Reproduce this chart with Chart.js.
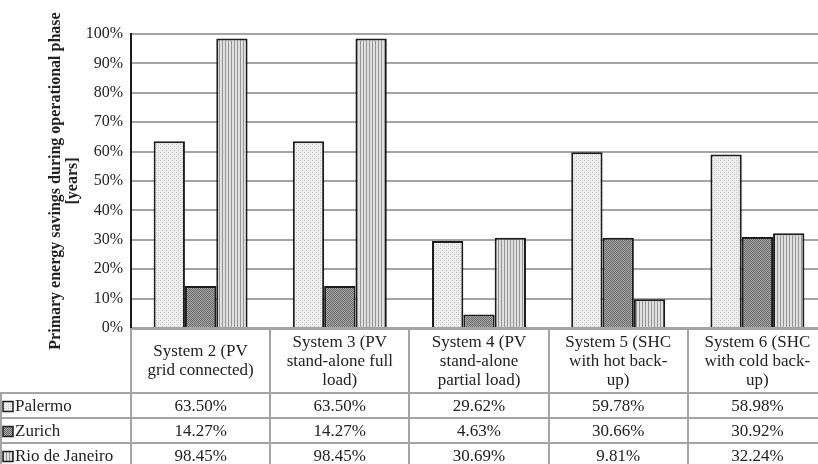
<!DOCTYPE html>
<html>
<head>
<meta charset="utf-8">
<script src="https://cdn.jsdelivr.net/npm/chart.js@4.4.1/dist/chart.umd.min.js"></script>
<style>
  html, body { margin: 0; padding: 0; background: #fff; width: 818px; height: 464px; overflow: hidden; }
  canvas { display: block; }
</style>
</head>
<body>
<canvas id="chart" width="827" height="464"></canvas>
<script>
// Category labels, already split into the lines shown in the table header row
const categories = [
  ['System 2 (PV', 'grid connected)'],
  ['System 3 (PV', 'stand-alone full', 'load)'],
  ['System 4 (PV', 'stand-alone', 'partial load)'],
  ['System 5 (SHC', 'with hot back-', 'up)'],
  ['System 6 (SHC', 'with cold back-', 'up)']
];
const seriesNames = ['Palermo', 'Zurich', 'Rio de Janeiro'];
const palermo = [63.50, 63.50, 29.62, 59.78, 58.98];
const zurich  = [14.27, 14.27, 4.63, 30.66, 30.92];
const rio     = [98.45, 98.45, 30.69, 9.81, 32.24];
const yTitle = ['Primary energy savings during operational phase', '[years]'];

const FONT = '"Liberation Serif", "Times New Roman", serif';
const TEXT = '#222222';
const RULE = '#a4a4a4';

const canvas = document.getElementById('chart');
const ctx = canvas.getContext('2d');

// Small repeating tiles for the three hatch styles
function tile(w, h, paint) {
  const t = document.createElement('canvas');
  t.width = w; t.height = h;
  paint(t.getContext('2d'));
  return ctx.createPattern(t, 'repeat');
}
const dotsFill = tile(4, 4, g => {
  g.fillStyle = '#efefef'; g.fillRect(0, 0, 4, 4);
  g.fillStyle = '#c2c2c2'; g.fillRect(0, 0, 1, 1); g.fillRect(2, 2, 1, 1);
  g.fillStyle = '#dadada'; g.fillRect(2, 0, 1, 1); g.fillRect(0, 2, 1, 1);
});
const denseFill = tile(2, 2, g => {
  g.fillStyle = '#a8a8a8'; g.fillRect(0, 0, 2, 2);
  g.fillStyle = '#6a6a6a'; g.fillRect(0, 0, 1, 1); g.fillRect(1, 1, 1, 1);
});
const stripeFill = tile(3, 1, g => {
  g.fillStyle = '#e0e0e0'; g.fillRect(0, 0, 3, 1);
  g.fillStyle = '#959595'; g.fillRect(0, 0, 1, 1);
});
const fills = [dotsFill, denseFill, stripeFill];
const seriesValues = [palermo, zurich, rio];

// Data table under the plot: header row with categories, then one row per series
const dataTable = {
  id: 'dataTable',
  afterDraw(chart) {
    const { ctx: c, chartArea: area } = chart;
    const n = categories.length;
    const cw = (area.right - area.left) / n;
    const top = area.bottom;
    const headBottom = top + 65;
    const rowH = 25;
    const rowsBottom = headBottom + rowH * seriesNames.length;

    c.save();
    c.strokeStyle = RULE;
    c.lineWidth = 2;
    c.beginPath();
    // horizontal rules
    c.moveTo(area.left, top + 1); c.lineTo(area.right, top + 1);
    for (let r = 0; r <= seriesNames.length; r++) {
      const y = headBottom + r * rowH;
      c.moveTo(0, y); c.lineTo(area.right, y);
    }
    // vertical rules
    for (let i = 0; i <= n; i++) {
      const x = Math.round(area.left + i * cw);
      c.moveTo(x, top); c.lineTo(x, rowsBottom);
    }
    c.moveTo(1, headBottom); c.lineTo(1, rowsBottom);
    c.stroke();

    c.fillStyle = TEXT;
    c.font = '17px ' + FONT;
    c.textAlign = 'center';
    c.textBaseline = 'middle';
    const lh = 19;
    const headMid = (top + headBottom) / 2 + 1;
    categories.forEach((lines, i) => {
      const cx = area.left + (i + 0.5) * cw;
      const y0 = headMid - (lines.length - 1) * lh / 2;
      lines.forEach((s, k) => c.fillText(s, cx, y0 + k * lh));
    });

    seriesNames.forEach((name, r) => {
      const cy = headBottom + r * rowH + rowH / 2 + 1;
      seriesValues[r].forEach((v, i) => {
        c.fillText(v.toFixed(2) + '%', area.left + (i + 0.5) * cw, cy);
      });
      // legend key
      c.fillStyle = fills[r];
      c.fillRect(3, cy - 5, 10, 10);
      c.strokeStyle = '#1c1c1c';
      c.lineWidth = 1.5;
      c.strokeRect(3, cy - 5, 10, 10);
      c.fillStyle = TEXT;
      c.textAlign = 'left';
      c.fillText(name, 15, cy);
      c.textAlign = 'center';
    });
    c.restore();
  }
};

new Chart(ctx, {
  type: 'bar',
  data: {
    labels: categories.map(l => l.join(' ')),
    datasets: seriesNames.map((name, r) => ({
      label: name,
      data: seriesValues[r],
      backgroundColor: fills[r],
      borderColor: '#1c1c1c',
      borderWidth: 2,
      categoryPercentage: 0.675,
      barPercentage: 1.0
    }))
  },
  options: {
    responsive: false,
    animation: false,
    devicePixelRatio: 1,
    layout: { padding: { top: 34, right: 0, bottom: 136, left: 0 } },
    plugins: { legend: { display: false }, tooltip: { enabled: false } },
    scales: {
      x: { display: false },
      y: {
        min: 0,
        max: 100,
        afterFit(scale) { scale.width = 131; },
        ticks: {
          stepSize: 10,
          padding: 8,
          color: TEXT,
          font: { family: FONT, size: 16 },
          callback: v => v + '%'
        },
        grid: { color: RULE, lineWidth: 2, drawTicks: false },
        border: { display: true, color: '#1c1c1c', width: 2 },
        title: {
          display: true,
          text: yTitle,
          color: TEXT,
          font: { family: FONT, size: 16, weight: 'bold', lineHeight: 1.0625 },
          padding: { top: 47, bottom: 0 }
        }
      }
    }
  },
  plugins: [dataTable]
});
</script>
</body>
</html>
